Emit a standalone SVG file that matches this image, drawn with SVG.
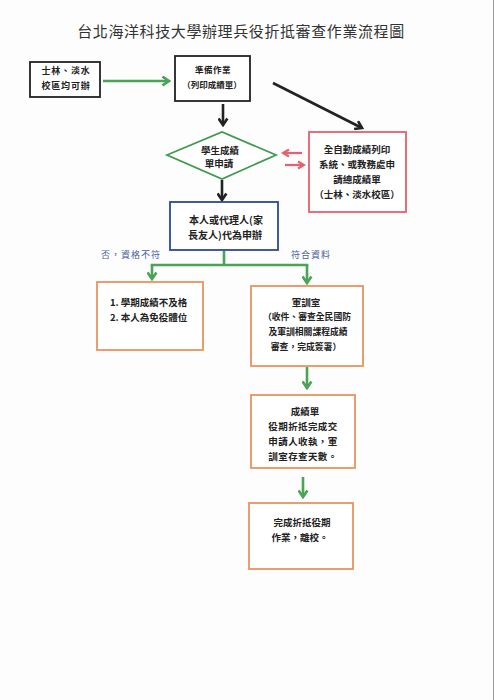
<svg xmlns="http://www.w3.org/2000/svg" width="495" height="700" viewBox="0 0 495 700">
<style>
text{font-family:"Noto Sans CJK TC","Noto Sans CJK SC",sans-serif;font-size:9.5px;fill:#222;font-weight:bold;text-anchor:middle}
.title{font-size:15px;font-weight:normal;fill:#333;letter-spacing:0.6px}
.lbl{fill:#4a5c9c;font-weight:normal;font-size:9px;letter-spacing:1px}
.left{text-anchor:start}
.bk{fill:#fff;stroke:#222;stroke-width:1.8}
.rd{fill:#fff;stroke:#e4606c;stroke-width:1.8}
.bl{fill:#fff;stroke:#2d4a8a;stroke-width:1.8}
.og{fill:#fff;stroke:#eb935e;stroke-width:1.8}
.gd{fill:#fff;stroke:#3f9a4c;stroke-width:1.8}
.cg{stroke:#49a457;stroke-width:2.6;fill:none}
.ck{stroke:#222;stroke-width:2.6;fill:none}
.cr{stroke:#e8606c;stroke-width:2.2;fill:none}
</style>
<defs>
<marker id="ag" viewBox="0 0 10 10" refX="8" refY="5" markerUnits="userSpaceOnUse" markerWidth="11" markerHeight="11" orient="auto"><path d="M2,1 L8,5 L2,9" fill="none" stroke="#49a457" stroke-width="2.4"/></marker>
<marker id="ak" viewBox="0 0 10 10" refX="8" refY="5" markerUnits="userSpaceOnUse" markerWidth="11" markerHeight="11" orient="auto"><path d="M2,1 L8,5 L2,9" fill="none" stroke="#222" stroke-width="2.4"/></marker>
<marker id="ar" viewBox="0 0 10 10" refX="8" refY="5" markerUnits="userSpaceOnUse" markerWidth="10" markerHeight="10" orient="auto"><path d="M2,1.5 L8,5 L2,8.5" fill="none" stroke="#e8606c" stroke-width="2.2"/></marker>
</defs>
<rect width="495" height="700" fill="#fdfdfd"/>
<line x1="493.5" y1="0" x2="493.5" y2="700" stroke="#9a9a9a" stroke-width="1"/>
<text class="title" x="241" y="37">台北海洋科技大學辦理兵役折抵審查作業流程圖</text>

<g id="connectors">
<line class="cg" x1="103" y1="81" x2="169" y2="81" marker-end="url(#ag)"/>
<line class="ck" x1="223" y1="104" x2="223" y2="125" marker-end="url(#ak)"/>
<line class="ck" x1="273" y1="83" x2="362" y2="128" marker-end="url(#ak)"/>
<line class="cr" x1="302" y1="153" x2="283" y2="153" marker-end="url(#ar)"/>
<line class="cr" x1="285" y1="165" x2="304" y2="165" marker-end="url(#ar)"/>
<line class="ck" x1="222" y1="180" x2="222" y2="200" marker-end="url(#ak)"/>
<line class="cg" x1="224" y1="251" x2="224" y2="265"/>
<line class="cg" x1="150.7" y1="265" x2="308.3" y2="265"/>
<line class="cg" x1="152" y1="265" x2="152" y2="279" marker-end="url(#ag)"/>
<line class="cg" x1="307" y1="265" x2="307" y2="283" marker-end="url(#ag)"/>
<line class="cg" x1="307" y1="367" x2="307" y2="388" marker-end="url(#ag)"/>
<line class="cg" x1="303" y1="477" x2="303" y2="497" marker-end="url(#ag)"/>
<text class="lbl" x="131" y="258">否，資格不符</text>
<text class="lbl" x="311" y="258">符合資料</text>
</g>

<g id="n1">
<rect class="bk" x="30" y="62" width="70" height="35"/>
<text x="66" y="73.5" style="font-size:9px;letter-spacing:0.8px">士林、淡水</text>
<text x="66" y="88.5" style="font-size:9px;letter-spacing:0.8px">校區均可辦</text>
</g>

<g id="n2">
<rect class="bk" x="175" y="56" width="75" height="45"/>
<text x="213" y="73" style="font-size:8.5px;letter-spacing:0.5px">準備作業</text>
<text x="212" y="88" style="font-size:8.5px">（列印成績單）</text>
</g>

<g id="n3">
<polygon class="gd" points="167,155 222,132 276,155 222,179"/>
<text x="220" y="153.5">學生成績</text>
<text x="219" y="167">單申請</text>
</g>

<g id="n4">
<rect class="rd" x="309" y="132" width="97" height="80"/>
<text x="357" y="152.5">全自動成績列印</text>
<text x="357" y="168">系統、或教務處申</text>
<text x="357" y="183">請總成績單</text>
<text x="357" y="197.5">（士林、淡水校區）</text>
</g>

<g id="n5">
<rect class="bl" x="170" y="202" width="108" height="48"/>
<text x="226" y="223.5" style="font-size:10px">本人或代理人(家</text>
<text x="225" y="238.5" style="font-size:10px">長友人)代為申辦</text>
</g>

<g id="n6">
<rect class="og" x="97" y="282" width="106" height="68"/>
<text class="left" x="110" y="306">1. 學期成績不及格</text>
<text class="left" x="110" y="321">2. 本人為免役體位</text>
</g>

<g id="n7">
<rect class="og" x="251" y="286" width="112" height="80"/>
<text x="306" y="306">軍訓室</text>
<text x="307" y="320" style="font-size:8.8px">（收件、審查全民國防</text>
<text x="308" y="335" style="font-size:8.8px">及軍訓相關課程成績</text>
<text x="306" y="350" style="font-size:8.8px">審查，完成簽署）</text>
</g>

<g id="n8">
<rect class="og" x="251" y="395" width="104" height="73"/>
<text x="305" y="414.5">成績單</text>
<text x="303" y="429.5" style="letter-spacing:0.4px">役期折抵完成交</text>
<text x="303" y="444.5" style="letter-spacing:0.4px">申請人收執，軍</text>
<text x="303" y="460" style="letter-spacing:0.4px">訓室存查天數。</text>
</g>

<g id="n9">
<rect class="og" x="249" y="503" width="104" height="66"/>
<text x="302" y="526">完成折抵役期</text>
<text x="300" y="541">作業，離校。</text>
</g>
</svg>
